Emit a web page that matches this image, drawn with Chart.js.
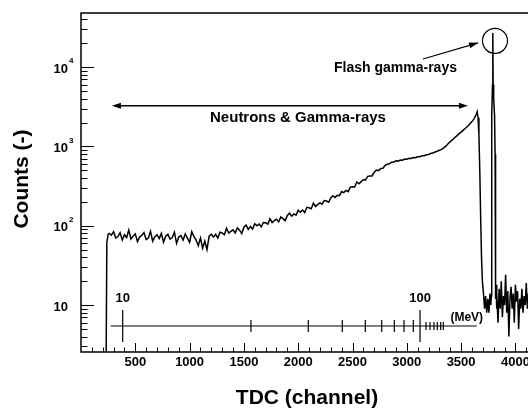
<!DOCTYPE html>
<html>
<head>
<meta charset="utf-8">
<script src="https://cdn.jsdelivr.net/npm/chart.js@4.4.1/dist/chart.umd.min.js"></script>
<style>
html, body { margin: 0; padding: 0; background: #fff; }
#wrap { width: 528px; height: 408px; }
</style>
</head>
<body>
<div id="wrap"><canvas id="chart" width="528" height="408"></canvas></div>
<script>
// TDC channel of each sample and the counts
const channels = [
  230, 238, 250,
  260, 280, 300, 320, 340, 360, 380, 400, 420, 440,
  460, 480, 500, 520, 540, 560, 580, 600, 620, 640,
  660, 680, 700, 720, 740, 760, 780, 800, 820, 840,
  860, 880, 900, 920, 940, 960, 980, 1000, 1020, 1040,
  1060, 1080, 1100, 1120, 1140, 1160, 1180, 1200, 1220, 1240,
  1260, 1280, 1300, 1320, 1340, 1360, 1380, 1400, 1420, 1440,
  1460, 1480, 1500, 1520, 1540, 1560, 1580, 1600, 1620, 1640,
  1660, 1680, 1700, 1720, 1740, 1760, 1780, 1800, 1820, 1840,
  1860, 1880, 1900, 1920, 1940, 1960, 1980, 2000, 2020, 2040,
  2060, 2080, 2100, 2120, 2140, 2160, 2180, 2200, 2220, 2240,
  2260, 2280, 2300, 2320, 2340, 2360, 2380, 2400, 2420, 2440,
  2460, 2480, 2500, 2520, 2540, 2560, 2580, 2600, 2620, 2640,
  2660, 2680, 2700, 2720, 2740, 2760, 2780, 2800, 2820, 2840,
  2860, 2880, 2900, 2920, 2940, 2960, 2980, 3000, 3020, 3040,
  3060, 3080, 3100, 3120, 3140, 3160, 3180, 3200, 3220, 3240,
  3260, 3280, 3300, 3320, 3340, 3360, 3380, 3400, 3420, 3440,
  3460, 3480, 3500, 3520, 3540, 3560, 3580, 3600, 3620, 3640,
  3648, 3656, 3664, 3672, 3680, 3688, 3696, 3706, 3716, 3726, 3736, 3746, 3756, 3766, 3774, 3778,
  3781, 3783, 3789, 3792, 3795, 3800, 3808, 3813, 3816, 3819, 3822, 3826,
  3830, 3840, 3850, 3860, 3870, 3880, 3890, 3900, 3910, 3920,
  3930, 3940, 3950, 3960, 3970, 3980, 3990, 4000, 4010, 4020,
  4030, 4040, 4050, 4060, 4070, 4080, 4090, 4100, 4110, 4120
];
const counts = [
  1, 62, 78,
  80, 76, 84, 70, 73, 82, 66, 77, 71, 88,
  68, 74, 79, 63, 72, 76, 82, 67, 70, 85,
  64, 73, 77, 69, 80, 62, 74, 78, 68, 71,
  83, 60, 72, 75, 66, 79, 70, 62, 84, 73,
  66, 56, 70, 52, 64, 50, 74, 78, 72, 78,
  70, 83, 81, 77, 93, 81, 85, 89, 81, 94,
  88, 80, 96, 102, 90, 98, 91, 106, 100, 105,
  97, 110, 109, 105, 123, 110, 116, 121, 112, 129,
  123, 116, 135, 144, 132, 141, 136, 157, 148, 158,
  147, 171, 169, 164, 193, 175, 186, 194, 187, 208,
  205, 198, 225, 239, 227, 243, 240, 270, 262, 279,
  269, 306, 310, 308, 357, 338, 360, 380, 379, 420,
  425, 425, 473, 504, 496, 528, 531, 577, 597, 604,
  634, 636, 660, 654, 676, 672, 694, 690, 708, 706,
  726, 722, 742, 744, 764, 766, 788, 792, 818, 826,
  852, 870, 896, 920, 960, 1010, 1080, 1150, 1210, 1290,
  1360, 1440, 1520, 1610, 1700, 1800, 1920, 2060, 2250, 2550,
  2750, 2300, 1400, 500, 130, 40, 20, 14, 9, 13, 8, 12, 8, 14, 10, 13,
  80, 2500, 6000, 27000, 6000, 4000, 2500, 800, 60, 12, 18, 9,
  14, 6, 16, 9, 20, 7, 13, 10, 24, 8,
  15, 4, 12, 17, 9, 14, 6, 18, 11, 15,
  5, 12, 9, 16, 8, 13, 10, 19, 9, 14
];

const xMajorTicks = [500, 1000, 1500, 2000, 2500, 3000, 3500, 4000];
const yDecades = [10, 100, 1000, 10000];
const yExponents = ['', '2', '3', '4'];

// neutron energy scale drawn inside the plot (channel of each MeV tick)
const mevTickChannels = [384, 1565, 2093, 2406, 2618, 2769, 2885, 2974, 3060, 3122, 3177, 3214, 3250, 3281, 3312, 3336];
const mevTickKinds = ['big', 'mid', 'mid', 'mid', 'mid', 'mid', 'mid', 'mid', 'mid', 'big', 'small', 'small', 'small', 'small', 'small', 'small'];
const mevLabelChannels = [384, 3122];
const mevLabelTexts = ['10', '100'];
const mevLine = { from: 273, to: 3644, count: 5.44 };

const FONT = '"Liberation Sans", Arial, Helvetica, sans-serif';

function arrowHead(ctx, x1, y1, x2, y2, len, half) {
    const a = Math.atan2(y2 - y1, x2 - x1);
    const bx = x2 - len * Math.cos(a), by = y2 - len * Math.sin(a);
    ctx.beginPath();
    ctx.moveTo(x2, y2);
    ctx.lineTo(bx + half * Math.sin(a), by - half * Math.cos(a));
    ctx.lineTo(bx - half * Math.sin(a), by + half * Math.cos(a));
    ctx.closePath();
    ctx.fill();
}

const framePlugin = {
    id: 'frame',
    afterDraw(chart) {
        const { ctx, chartArea: a } = chart;
        const x = chart.scales.x, y = chart.scales.y;
        ctx.save();
        ctx.strokeStyle = '#000';
        ctx.fillStyle = '#000';

        // frame
        ctx.lineWidth = 1.5;
        ctx.beginPath();
        ctx.moveTo(a.right, a.top);
        ctx.lineTo(a.left, a.top);
        ctx.lineTo(a.left, a.bottom);
        ctx.lineTo(a.right, a.bottom);
        ctx.stroke();

        // x ticks, drawn inward
        ctx.lineWidth = 1;
        ctx.beginPath();
        for (let v = 100; v <= x.max; v += 100) {
            const px = Math.round(x.getPixelForValue(v)) + 0.5;
            const len = v % 500 === 0 ? 9 : 4.5;
            ctx.moveTo(px, a.bottom);
            ctx.lineTo(px, a.bottom - len);
        }
        // y ticks
        for (let d = 1; d <= 10000; d *= 10) {
            for (let k = 1; k <= 9; k++) {
                const v = k * d;
                if (v < y.min || v > y.max) continue;
                const py = Math.round(y.getPixelForValue(v)) + 0.5;
                const len = k === 1 ? 13 : 6.5;
                ctx.moveTo(a.left, py);
                ctx.lineTo(a.left + len, py);
            }
        }
        ctx.stroke();

        // tick labels
        ctx.font = 'bold 13px ' + FONT;
        ctx.textAlign = 'center';
        ctx.textBaseline = 'middle';
        xMajorTicks.forEach(v => {
            ctx.fillText(String(v), x.getPixelForValue(v), a.bottom + 10);
        });
        yDecades.forEach((v, i) => {
            const py = y.getPixelForValue(v);
            ctx.font = 'bold 13px ' + FONT;
            ctx.textAlign = 'right';
            ctx.fillText('10', a.left - 13, py + 2);
            if (yExponents[i]) {
                ctx.font = 'bold 8px ' + FONT;
                ctx.textAlign = 'left';
                ctx.fillText(yExponents[i], a.left - 12, py - 6);
            }
        });

        // axis titles
        ctx.font = 'bold 21px ' + FONT;
        ctx.textAlign = 'center';
        ctx.fillText('TDC (channel)', 307, a.bottom + 46);
        ctx.save();
        ctx.translate(22, 179);
        ctx.rotate(-Math.PI / 2);
        ctx.fillText('Counts (-)', 0, 0);
        ctx.restore();

        // energy scale
        const ly = y.getPixelForValue(mevLine.count);
        ctx.lineWidth = 1.2;
        ctx.beginPath();
        ctx.moveTo(x.getPixelForValue(mevLine.from), ly);
        ctx.lineTo(x.getPixelForValue(mevLine.to), ly);
        mevTickChannels.forEach((c, i) => {
            const px = x.getPixelForValue(c);
            const h = mevTickKinds[i] === 'big' ? 16 : (mevTickKinds[i] === 'mid' ? 6 : 4);
            ctx.moveTo(px, ly - h);
            ctx.lineTo(px, ly + h);
        });
        ctx.stroke();
        ctx.font = 'bold 13px ' + FONT;
        mevLabelChannels.forEach((c, i) => {
            ctx.fillText(mevLabelTexts[i], x.getPixelForValue(c), ly - 28);
        });
        ctx.font = 'bold 12px ' + FONT;
        ctx.fillText('(MeV)', x.getPixelForValue(mevLine.to) - 10, ly - 8);

        // neutrons & gamma-rays double arrow
        const ay = y.getPixelForValue(3260);
        const ax1 = x.getPixelForValue(285), ax2 = x.getPixelForValue(3563);
        ctx.lineWidth = 1.5;
        ctx.beginPath();
        ctx.moveTo(ax1 + 4, ay);
        ctx.lineTo(ax2 - 4, ay);
        ctx.stroke();
        arrowHead(ctx, ax2, ay, ax1, ay, 9, 3);
        arrowHead(ctx, ax1, ay, ax2, ay, 9, 3);
        ctx.font = 'bold 15px ' + FONT;
        ctx.fillText('Neutrons & Gamma-rays', x.getPixelForValue(1998), y.getPixelForValue(2297));

        // flash gamma-rays arrow and circle
        ctx.font = 'bold 14px ' + FONT;
        ctx.fillText('Flash gamma-rays', x.getPixelForValue(2896), y.getPixelForValue(9850));
        const fx1 = x.getPixelForValue(3149), fy1 = y.getPixelForValue(12700);
        const fx2 = x.getPixelForValue(3656), fy2 = y.getPixelForValue(20300);
        ctx.lineWidth = 1.2;
        ctx.beginPath();
        ctx.moveTo(fx1, fy1);
        ctx.lineTo(fx2, fy2);
        ctx.stroke();
        arrowHead(ctx, fx1, fy1, fx2, fy2, 9, 3);
        ctx.beginPath();
        ctx.arc(x.getPixelForValue(3812), y.getPixelForValue(21500), 12.5, 0, Math.PI * 2);
        ctx.stroke();

        ctx.restore();
    }
};

new Chart(document.getElementById('chart'), {
    type: 'line',
    data: {
        datasets: [{
            data: channels.map((c, i) => ({ x: c, y: counts[i] })),
            borderColor: '#000',
            borderWidth: 1.5,
            pointRadius: 0,
            tension: 0,
            fill: false
        }]
    },
    options: {
        responsive: false,
        devicePixelRatio: 1,
        animation: false,
        layout: { padding: { left: 81, top: 13, right: 0, bottom: 56 } },
        plugins: { legend: { display: false }, tooltip: { enabled: false } },
        scales: {
            x: { type: 'linear', min: 0, max: 4116, display: false },
            y: { type: 'logarithmic', min: 2.556, max: 48300, display: false }
        }
    },
    plugins: [framePlugin]
});
</script>
</body>
</html>
